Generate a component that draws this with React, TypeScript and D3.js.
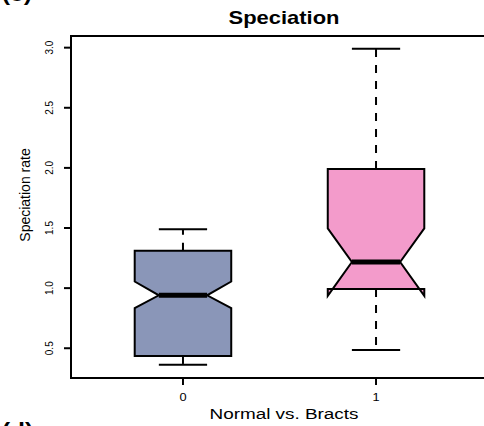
import * as d3 from 'd3';

const groups = ["0", "1"]
const lowerWhisker = [0.363, 0.486]
const lowerHinge = [0.436, 0.992]
const medians = [0.94, 1.217]
const upperHinge = [1.31, 1.99]
const upperWhisker = [1.49, 2.99]
const notchLow = [0.833, 0.936]
const notchHigh = [1.055, 1.497]
const fills = ["#8a96b8", "#f39bcb"]

const yTicks = [0.5, 1.0, 1.5, 2.0, 2.5, 3.0]

const W = 484
const H = 426
const font = "'Liberation Sans', Arial, sans-serif"
const stretch = 1.22

function App() {
  const x = d3.scaleLinear().domain([0.42, 2.58]).range([71, 488])
  const y = d3.scaleLinear().domain([0.2525, 3.097]).range([378, 36])
  const halfW = 0.25

  const line = d3.line<[number, number]>()
    .x(d => x(d[0]))
    .y(d => y(d[1]))

  const boxes = groups.map((g, i) => {
    const c = i + 1
    const pts: [number, number][] = [
      [c - halfW, lowerHinge[i]],
      [c - halfW, notchLow[i]],
      [c - halfW / 2, medians[i]],
      [c - halfW, notchHigh[i]],
      [c - halfW, upperHinge[i]],
      [c + halfW, upperHinge[i]],
      [c + halfW, notchHigh[i]],
      [c + halfW / 2, medians[i]],
      [c + halfW, notchLow[i]],
      [c + halfW, lowerHinge[i]],
    ]
    return (
      <g key={g}>
        <line x1={x(c)} x2={x(c)} y1={y(upperHinge[i])} y2={y(upperWhisker[i])}
          stroke="#000" strokeWidth={2} strokeDasharray="8 8" />
        <line x1={x(c)} x2={x(c)} y1={y(lowerHinge[i])} y2={y(lowerWhisker[i])}
          stroke="#000" strokeWidth={2} strokeDasharray="8 8" />
        <line x1={x(c - halfW / 2)} x2={x(c + halfW / 2)} y1={y(upperWhisker[i])} y2={y(upperWhisker[i])}
          stroke="#000" strokeWidth={2} />
        <line x1={x(c - halfW / 2)} x2={x(c + halfW / 2)} y1={y(lowerWhisker[i])} y2={y(lowerWhisker[i])}
          stroke="#000" strokeWidth={2} />
        <path d={line(pts) + "Z"} fill={fills[i]} stroke="#000" strokeWidth={2} strokeLinejoin="miter" />
        <line x1={x(c - halfW / 2)} x2={x(c + halfW / 2)} y1={y(medians[i])} y2={y(medians[i])}
          stroke="#000" strokeWidth={5} />
      </g>
    )
  })

  return (
    <svg width={W} height={H} style={{ position: 'absolute', left: 0, top: 0, background: '#fff' }}
      fontFamily={font}>
      {/* panel letters cut off by the crop */}
      <text transform={`translate(2,1) scale(${stretch},1)`} fontSize={20} fontWeight="bold">(c)</text>
      <text transform={`translate(2,437) scale(${stretch},1)`} fontSize={20} fontWeight="bold">(d)</text>

      <text transform={`translate(284,24) scale(${stretch},1)`} fontSize={18} fontWeight="bold" textAnchor="middle">Speciation</text>

      {boxes}

      <rect x={71} y={36} width={417} height={342} fill="none" stroke="#000" strokeWidth={2} />

      {yTicks.map(t => (
        <g key={t}>
          <line x1={64} x2={71} y1={y(t)} y2={y(t)} stroke="#000" strokeWidth={2} />
          <text transform={`translate(53,${y(t)}) rotate(-90)`} fontSize={10} textAnchor="middle">{t.toFixed(1)}</text>
        </g>
      ))}

      {groups.map((g, i) => (
        <g key={g}>
          <line x1={x(i + 1)} x2={x(i + 1)} y1={378} y2={385} stroke="#000" strokeWidth={2} />
          <text transform={`translate(${x(i + 1)},401) scale(${stretch},1)`} fontSize={10.5} textAnchor="middle">{g}</text>
        </g>
      ))}

      <text transform="translate(30,195) rotate(-90)" fontSize={14} textAnchor="middle">Speciation rate</text>
      <text transform={`translate(284,419) scale(${stretch},1)`} fontSize={15.5} textAnchor="middle">Normal vs. Bracts</text>
    </svg>
  )
}

export default App
